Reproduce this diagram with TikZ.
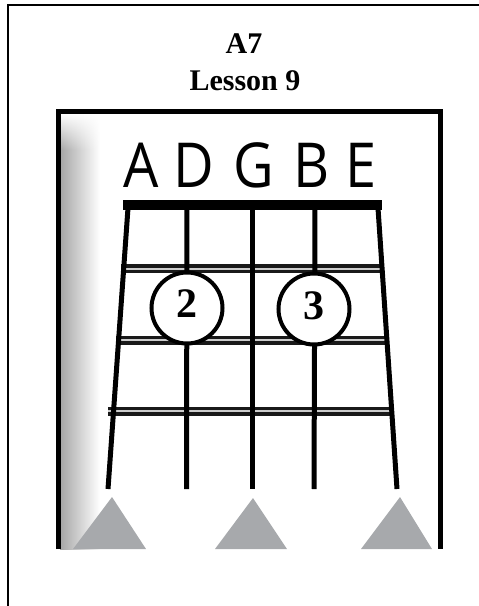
\documentclass[tikz,border=0pt]{standalone}
\usepackage{fontspec}
\setmainfont{Liberation Serif}
\newfontfamily\chartfont[FakeStretch=0.9]{Open Sans}
\usetikzlibrary{fadings}

\definecolor{markgray}{HTML}{A7A9AC}
\tikzfading[name=topfade, top color=transparent!0, bottom color=transparent!100]

\begin{document}
\begin{tikzpicture}[x=1pt, y=-1pt,
    gstring/.style={line width=5pt, black},
    fretdark/.style={line width=9pt, black!90},
    fretlight/.style={line width=2pt, gray!40},
    fingerdot/.style={circle, draw, line width=4pt, fill=white, minimum size=71pt, inner sep=0pt},
    fingernum/.style={font=\fontsize{42}{46}\selectfont\bfseries},
    titletext/.style={anchor=base, font=\fontsize{30}{36}\selectfont\bfseries},
    stringname/.style={anchor=base, font={\chartfont\fontsize{62}{70}\selectfont}},
    openmark/.style={fill=markgray}]

\useasboundingbox (0,0) rectangle (479,606);

% outer frame
\draw[line width=1.6pt] (8,606) -- (8,4.8) -- (479,4.8);

\node[titletext] (chord) at (244,53) {A7};
\node[titletext] (lesson) at (245,90) {Lesson 9};

% chart frame with its shadow
\shade[left color=gray!70, right color=white] (60,113) rectangle (100,549);
\fill[white, path fading=topfade] (60,113) rectangle (100,150);
\draw[line width=5pt] (58,549) -- (58,111) -- (440,111) -- (440,549);

\node[stringname] (nA) at (141,187) {A};
\node[stringname] (nD) at (194,187) {D};
\node[stringname] (nG) at (254,187) {G};
\node[stringname] (nB) at (312,187) {B};
\node[stringname] (nE) at (361,187) {E};

% nut
\fill (123,200) rectangle (382,210);

% frets
\coordinate (f1l) at (121,268.5);
\coordinate (f1r) at (383,268.5);
\coordinate (f2l) at (116,340);
\coordinate (f2r) at (387,340);
\coordinate (f3l) at (108,411);
\coordinate (f3r) at (391,411);

\draw[fretdark] (f1l) -- (f1r);
\draw[fretlight] (f1l) -- (f1r);
\draw[fretdark] (f2l) -- (f2r);
\draw[fretlight] (f2l) -- (f2r);
\draw[fretdark] (f3l) -- (f3r);
\draw[fretlight] (f3l) -- (f3r);

% strings
\coordinate (At) at (128,208);
\coordinate (Ab) at (108,489);
\coordinate (Dt) at (187,208);
\coordinate (Db) at (186.5,489);
\coordinate (Gt) at (252,208);
\coordinate (Gb) at (252,489);
\coordinate (Bt) at (315,208);
\coordinate (Bb) at (314,489);
\coordinate (Et) at (378,208);
\coordinate (Eb) at (397,489);

\draw[gstring] (At) -- (Ab);
\draw[gstring] (Dt) -- (Db);
\draw[gstring] (Gt) -- (Gb);
\draw[gstring] (Bt) -- (Bb);
\draw[gstring] (Et) -- (Eb);

% fingers
\node[fingerdot] (two) at (187,308) {};
\node[fingernum] (twonum) at ([yshift=4.5pt]two.center) {2};
\node[fingerdot] (three) at (314,309) {};
\node[fingernum] (threenum) at ([yshift=3pt]three.center) {3};

% open strings
\fill[openmark] (112,497) -- (73,549) -- (146,549) -- cycle;
\fill[openmark] (253,498) -- (215,549) -- (287,549) -- cycle;
\fill[openmark] (400,497) -- (361,549) -- (432,549) -- cycle;

\end{tikzpicture}
\end{document}
